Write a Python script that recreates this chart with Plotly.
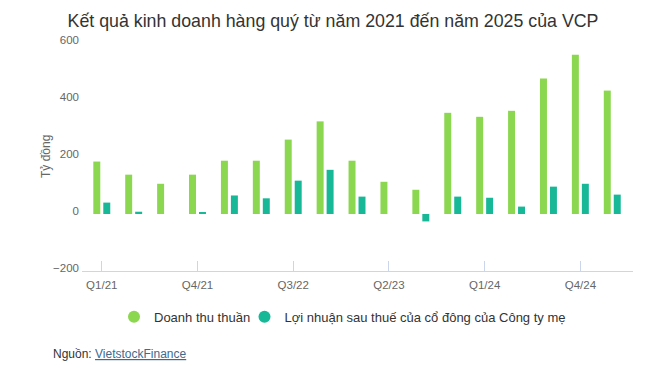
import plotly.graph_objects as go

quarters = ["Q1/21", "Q2/21", "Q3/21", "Q4/21", "Q1/22", "Q2/22", "Q3/22", "Q4/22",
            "Q1/23", "Q2/23", "Q3/23", "Q4/23", "Q1/24", "Q2/24", "Q3/24", "Q4/24", "Q1/25"]
revenue = [184, 138, 106, 138, 187, 187, 261, 325, 187, 113, 85, 355, 341, 362, 475, 559, 433]
profit = [40, 8, 0, 4, 65, 55, 117, 155, 61, 0, -26, 61, 57, 26, 96, 106, 68]
tick_labels = ["Q1/21", "Q4/21", "Q3/22", "Q2/23", "Q1/24", "Q4/24"]
y_ticks = [-200, 0, 200, 400, 600]

series_names = ["Doanh thu thuần", "Lợi nhuận sau thuế của cổ đông của Công ty mẹ"]
colors = ["#8cd750", "#17b897"]

FONT = "Liberation Sans, Arial, sans-serif"

# The page body has an 8px default margin, so the figure is drawn 8px smaller
W, H = 637, 372
L, T, R, B = 74, 35, 12, 109
PW, PH = W - L - R, H - T - B

fig = go.Figure()
for name, vals, col in zip(series_names, [revenue, profit], colors):
    fig.add_trace(go.Bar(x=quarters, y=vals, name=name, marker=dict(color=col, line=dict(width=0)),
                         showlegend=False))
# legend entries with circle symbols
for i, (name, col) in enumerate(zip(series_names, colors)):
    fig.add_trace(go.Scatter(x=[None], y=[None], mode="markers", name=name,
                             legend="legend" if i == 0 else "legend2",
                             marker=dict(color=col, size=12, symbol="circle")))

legend_common = dict(orientation="h", xanchor="left", yanchor="middle",
                     y=-(308.7 - (T + PH)) / PH,
                     font=dict(family=FONT, size=13, color="#333333"),
                     itemwidth=30, bgcolor="rgba(0,0,0,0)")

fig.update_layout(
    width=W, height=H,
    margin=dict(l=L, r=R, t=T, b=B),
    paper_bgcolor="white", plot_bgcolor="white",
    barmode="group", bargap=0.375, bargroupgap=0.3,
    font=dict(family=FONT, color="#666666", size=12),
    title=dict(text="Kết quả kinh doanh hàng quý từ năm 2021 đến năm 2025 của VCP",
               x=(325 - L) / PW, xref="paper", xanchor="center", y=1 - 13 / H, yanchor="middle",
               font=dict(family=FONT, size=17.8, color="#333333")),
    legend=dict(x=(106 - L) / PW, **legend_common),
    legend2=dict(x=(236.5 - L) / PW, **legend_common),
    showlegend=True,
)
fig.update_xaxes(type="category", categoryorder="array", categoryarray=quarters,
                 range=[-0.62, 16.65], tickmode="array", tickvals=tick_labels, ticktext=tick_labels,
                 showgrid=False, showline=True, linecolor="#ccd6eb", linewidth=1,
                 ticks="inside", ticklen=10, tickcolor="#ccd6eb", ticklabelstandoff=3,
                 tickfont=dict(size=11.5, color="#666666"), zeroline=False, fixedrange=True)
fig.update_yaxes(range=[-200, 600], tickvals=y_ticks, showgrid=False, zeroline=False,
                 showline=False, ticks="", tickfont=dict(size=11.5, color="#666666"),
                 ticklabelstandoff=2, ticklabelshift=-3, fixedrange=True)

fig.add_annotation(text="Tỷ đồng", xref="paper", yref="paper", x=(38 - L) / PW, y=0.5,
                   textangle=-90, showarrow=False, xanchor="center", yanchor="middle",
                   font=dict(family=FONT, size=12, color="#666666"))
fig.add_annotation(text='Nguồn: <a href="https://finance.vietstock.vn" style="color:#3d6b8e"><u>VietstockFinance</u></a>',
                   xref="paper", yref="paper", x=(43 - L) / PW, y=-(346.3 - (T + PH)) / PH,
                   showarrow=False, xanchor="left", yanchor="middle",
                   font=dict(family=FONT, size=12, color="#333333"))

fig.write_html("out.html")
